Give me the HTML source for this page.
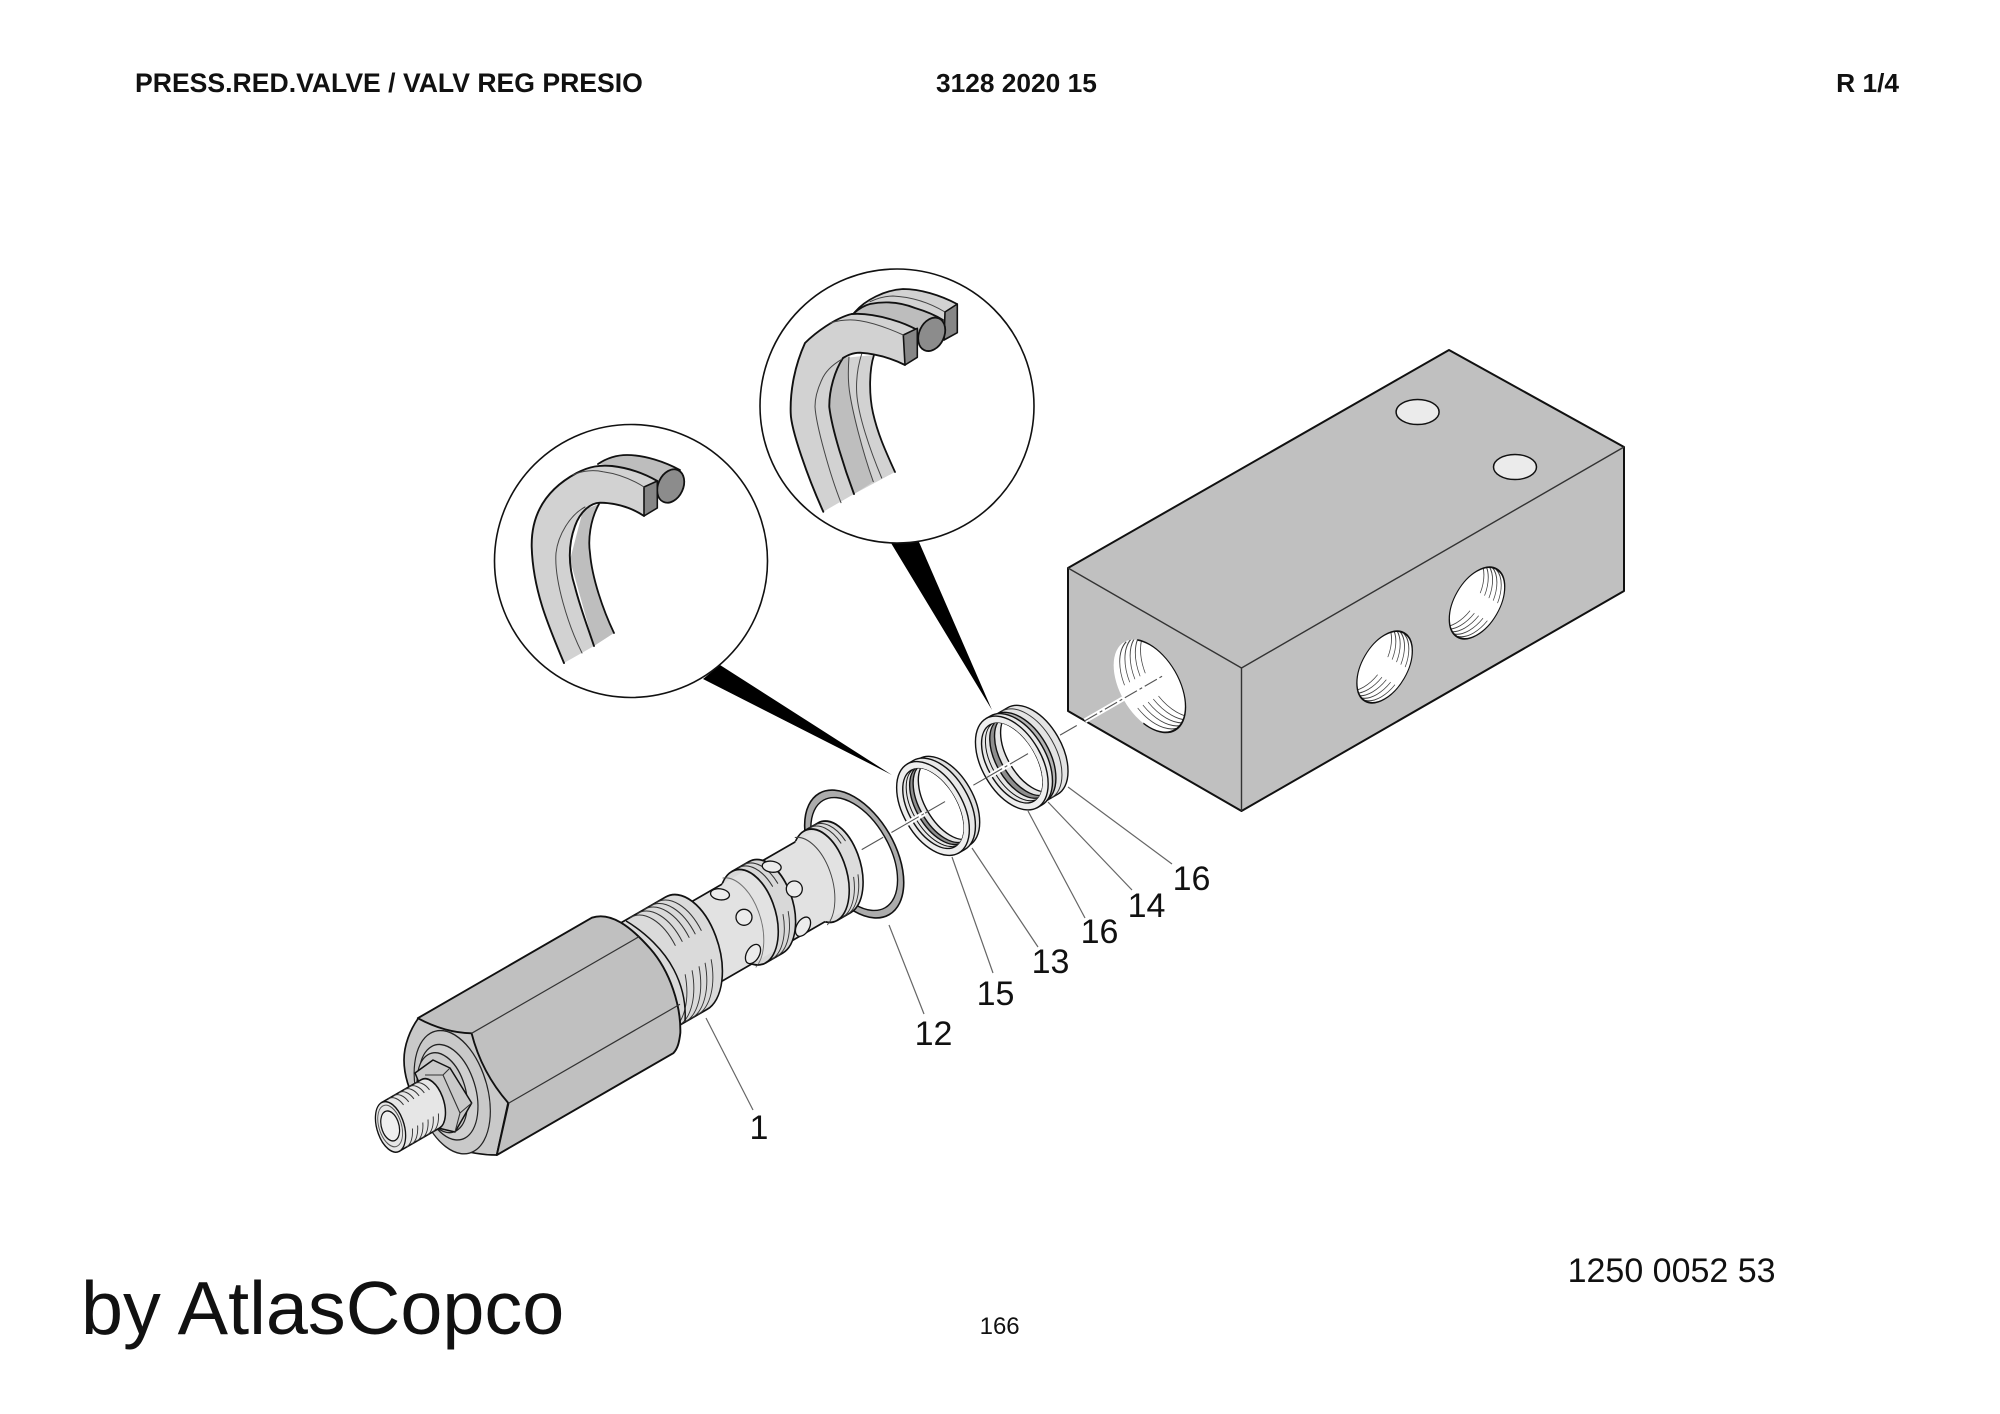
<!DOCTYPE html>
<html><head><meta charset="utf-8"><title>PRESS.RED.VALVE</title>
<style>html,body{margin:0;padding:0;background:#fff;width:2000px;height:1414px;overflow:hidden}svg{display:block}
text{font-family:"Liberation Sans",sans-serif;fill:#111}</style></head>
<body>
<svg xmlns="http://www.w3.org/2000/svg" width="2000" height="1414" viewBox="0 0 2000 1414">
<defs>
<clipPath id="chA"><ellipse cx="718" cy="0" rx="24" ry="44"/></clipPath>
<clipPath id="chB"><ellipse cx="627" cy="0" rx="24" ry="44"/></clipPath>
<clipPath id="c1"><circle r="41.5"/></clipPath>
<clipPath id="c2"><circle r="32"/></clipPath>
</defs>
<rect width="2000" height="1414" fill="#fff"/>

<!-- headers -->
<text x="135" y="92" font-size="26.6" font-weight="bold">PRESS.RED.VALVE / VALV REG PRESIO</text>
<text x="936" y="92" font-size="26.3" font-weight="bold">3128 2020 15</text>
<text x="1899" y="92" font-size="26.3" font-weight="bold" text-anchor="end">R 1/4</text>

<!-- block -->
<g stroke-linejoin="round">
<polygon points="1449,350 1624,447 1624,591 1241.5,811 1068,711 1068,568" fill="#c0c0c0" stroke="#111" stroke-width="2"/>
<polyline points="1068,568 1241.5,668 1624,447" fill="none" stroke="#333" stroke-width="1.4"/>
<line x1="1241.5" y1="668" x2="1241.5" y2="811" stroke="#333" stroke-width="1.4"/>
</g>
<ellipse cx="1417.6" cy="412" rx="21.5" ry="12.5" fill="#ebebeb" stroke="#111" stroke-width="1.5"/>
<ellipse cx="1515" cy="467" rx="21.5" ry="12.5" fill="#ebebeb" stroke="#111" stroke-width="1.5"/>

<!-- front hole -->
<g transform="matrix(.866,.5,0,1,1149.6,686)">
<circle r="41.5" fill="#fff"/>
<g clip-path="url(#c1)" fill="none" stroke="#444" stroke-width="1">
<circle cx="7" cy="-7" r="41.5" pathLength="360" stroke-dasharray="65 30 65 200" stroke-dashoffset="-55"/>
<circle cx="13" cy="-13" r="41.5" pathLength="360" stroke-dasharray="65 30 65 200" stroke-dashoffset="-55"/>
<circle cx="19" cy="-19" r="41.5" pathLength="360" stroke-dasharray="65 30 65 200" stroke-dashoffset="-55"/>
<circle cx="25" cy="-25" r="41.5" pathLength="360" stroke-dasharray="65 30 65 200" stroke-dashoffset="-55"/>
<circle cx="31" cy="-31" r="41.5" pathLength="360" stroke-dasharray="65 30 65 200" stroke-dashoffset="-55"/>
</g>
<circle r="41.5" fill="none" stroke="#111" stroke-width="1.6" pathLength="360" stroke-dasharray="210 150" stroke-dashoffset="110"/>
</g>
<!-- side holes -->
<g transform="matrix(.866,-.5,0,1,1384.6,667)">
<circle r="32" fill="#fff"/>
<g clip-path="url(#c2)" fill="none" stroke="#444" stroke-width="1">
<circle cx="-4" cy="-4" r="32" pathLength="360" stroke-dasharray="65 30 65 200" stroke-dashoffset="35"/>
<circle cx="-9" cy="-9" r="32" pathLength="360" stroke-dasharray="65 30 65 200" stroke-dashoffset="35"/>
<circle cx="-14" cy="-14" r="32" pathLength="360" stroke-dasharray="65 30 65 200" stroke-dashoffset="35"/>
<circle cx="-19" cy="-19" r="32" pathLength="360" stroke-dasharray="65 30 65 200" stroke-dashoffset="35"/>
<circle cx="-24" cy="-24" r="32" pathLength="360" stroke-dasharray="65 30 65 200" stroke-dashoffset="35"/>
</g>
<circle r="32" fill="none" stroke="#111" stroke-width="1.5"/>
</g>
<g transform="matrix(.866,-.5,0,1,1477,603)">
<circle r="32" fill="#fff"/>
<g clip-path="url(#c2)" fill="none" stroke="#444" stroke-width="1">
<circle cx="-4" cy="-4" r="32" pathLength="360" stroke-dasharray="65 30 65 200" stroke-dashoffset="35"/>
<circle cx="-9" cy="-9" r="32" pathLength="360" stroke-dasharray="65 30 65 200" stroke-dashoffset="35"/>
<circle cx="-14" cy="-14" r="32" pathLength="360" stroke-dasharray="65 30 65 200" stroke-dashoffset="35"/>
<circle cx="-19" cy="-19" r="32" pathLength="360" stroke-dasharray="65 30 65 200" stroke-dashoffset="35"/>
<circle cx="-24" cy="-24" r="32" pathLength="360" stroke-dasharray="65 30 65 200" stroke-dashoffset="35"/>
</g>
<circle r="32" fill="none" stroke="#111" stroke-width="1.5"/>
</g>

<!-- wedges -->
<polygon points="891,543 919,542 992,710" fill="#000"/>
<polygon points="703,679 720,665 892,775" fill="#000"/>

<!-- detail circles -->
<circle cx="897" cy="406" r="137" fill="#fff" stroke="#111" stroke-width="1.6"/>
<circle cx="631" cy="561" r="136.5" fill="#fff" stroke="#111" stroke-width="1.6"/>

<!-- left seal -->
<g stroke-linejoin="round" stroke-linecap="round">
<path d="M598,464 C610,456 620,455 627,455 C645,455 665,462 680,470 L670,500 L658,482 L613,466 Z" fill="#bdbdbd"/>
<path d="M598,464 C610,456 620,455 627,455 C645,455 665,462 680,470" fill="none" stroke="#111" stroke-width="1.8"/>
<ellipse cx="670.7" cy="486" rx="12.5" ry="17.5" transform="rotate(25 670.7 486)" fill="#8c8c8c" stroke="#111" stroke-width="1.8"/>
<path d="M599,504 C590,520 588,540 590,553 C592,578 603,610 614,633 L594,646 L570,560 L583,510 Z" fill="#bebebe"/>
<path d="M599,504 C590,520 588,540 590,553 C592,578 603,610 614,633" fill="none" stroke="#111" stroke-width="1.8"/>
<path d="M564,663 C548,625 533,590 531.7,547 C531,515 545,490 576.7,473 C590,466 600,465 612,466 C630,468 645,474 657.3,481 L657.3,508 L644,516 C632,508 618,503 600,502.7 C590,503 580,512 575,526 C568,545 568,565 575,587 C580,607 588,628 594,646 Z" fill="#d2d2d2"/>
<path d="M564,663 C548,625 533,590 531.7,547 C531,515 545,490 576.7,473 C590,466 600,465 612,466 C630,468 645,474 657.3,481 M644,516 C632,508 618,503 600,502.7 C590,503 580,512 575,526 C568,545 568,565 575,587 C580,607 588,628 594,646" fill="none" stroke="#111" stroke-width="1.9"/>
<polygon points="644,487 657.3,481 657.3,508 644,516" fill="#868686" stroke="#111" stroke-width="1.6"/>
<path d="M573,475 C583,470 595,470 603,471.7 C620,474 633,480 644,487" fill="none" stroke="#444" stroke-width="1"/>
<path d="M585,507 C570,515 558,535 556,553 C554,580 568,625 582,653" fill="none" stroke="#444" stroke-width="1"/>
</g>

<!-- right seal -->
<g stroke-linejoin="round" stroke-linecap="round">
<path d="M855,312 C865,300 885,290 903,289 C920,289 940,295 957,304 L957,333 L944,340 L925,315 L868,306 Z" fill="#d2d2d2"/>
<path d="M855,312 C865,300 885,290 903,289 C920,289 940,295 957,304" fill="none" stroke="#111" stroke-width="1.8"/>
<path d="M870,301.7 C878,298 886,296 893,296 C912,297 930,303 945,312" fill="none" stroke="#444" stroke-width="1"/>
<polygon points="945,312 957.3,304 957.3,332.7 944,340" fill="#868686" stroke="#111" stroke-width="1.6"/>
<path d="M854,313 C860,308 866,305 870,304 C885,301 900,302 915,308 C925,311 935,315 943,320 L935,350 L917,330 L876,317 Z" fill="#bdbdbd"/>
<path d="M854,313 C860,308 866,305 870,304 C885,301 900,302 915,308 C925,311 935,315 943,320" fill="none" stroke="#111" stroke-width="1.8"/>
<ellipse cx="931.7" cy="334.3" rx="12.5" ry="17.5" transform="rotate(25 931.7 334.3)" fill="#8c8c8c" stroke="#111" stroke-width="1.8"/>
<path d="M874,355 C869,370 869,395 873,413 C878,435 886,452 895,472 L854,494 L829,407 L843,358 Z" fill="#d2d2d2"/>
<path d="M849,357 C848,370 848,380 849.3,390 C852,410 862,450 873.3,481.7 L854,494 C845,470 834,430 829.3,407 C829,390 835,370 843,358 Z" fill="#bebebe"/>
<path d="M874,355 C869,370 869,395 873,413 C878,435 886,452 895,472" fill="none" stroke="#111" stroke-width="1.8"/>
<path d="M849,357 C848,370 848,380 849.3,390 C852,410 862,450 873.3,481.7 M862,353 C858,365 856,380 856.7,393 C858,415 870,450 881.7,478" fill="none" stroke="#444" stroke-width="1"/>
<path d="M823.3,511.7 C808,478 791,430 790.7,413 C790,390 795,365 805,343 C815,333 835,318 851.7,314 C865,313 880,316 893,320 C900,322 910,326 917.3,330 L917.3,357 L905,365 C895,360 880,354 860,352.7 C852,353 848,355 843,358 C835,370 829,390 829.3,407 C832,430 845,470 854,494 Z" fill="#d2d2d2"/>
<path d="M823.3,511.7 C808,478 791,430 790.7,413 C790,390 795,365 805,343 C815,333 835,318 851.7,314 C865,313 880,316 893,320 C900,322 910,326 917.3,330 M905,365 C895,360 880,354 860,352.7 C852,353 848,355 843,358 C835,370 829,390 829.3,407 C832,430 845,470 854,494" fill="none" stroke="#111" stroke-width="1.9"/>
<polygon points="903.3,335 917.3,328.3 917.3,357.3 905,365" fill="#868686" stroke="#111" stroke-width="1.6"/>
<path d="M830,323 C840,320 850,319 860,320.7 C875,323 890,329 903.3,335" fill="none" stroke="#444" stroke-width="1"/>
<path d="M841.7,359.3 C832,365 825,372 821.7,380 C817,390 815,400 815,406.7 C816,425 830,475 841,502.7" fill="none" stroke="#444" stroke-width="1"/>
</g>

<!-- leader lines -->
<g stroke="#666" stroke-width="1.2" fill="none">
<line x1="706" y1="1018" x2="753" y2="1110"/>
<line x1="889" y1="925" x2="924" y2="1014"/>
<line x1="952" y1="857" x2="993" y2="973"/>
<line x1="972" y1="848" x2="1038" y2="947"/>
<line x1="1028" y1="811" x2="1085" y2="918"/>
<line x1="1048" y1="802" x2="1132" y2="890"/>
<line x1="1068" y1="787" x2="1172" y2="864"/>
</g>

<!-- axis frame: x along axis -->
<g transform="translate(390,1122) rotate(-30)" stroke-linejoin="round">

<!-- O-ring -->
<ellipse cx="536" cy="0" rx="40.5" ry="70" fill="#acacac" stroke="#111" stroke-width="1.6"/>
<ellipse cx="536" cy="0" rx="35" ry="62" fill="#fff" stroke="#111" stroke-width="1.4"/>

<!-- ring A -->
<g stroke="#111" stroke-width="1.4">
<path d="M727,-50 L742,-50 A29 50 0 0 1 742,50 L727,50 Z" fill="#e4e4e4"/>
<path d="M735,-50 A29 50 0 0 1 735,50" fill="none" stroke="#333" stroke-width="1"/>
<path d="M722,-50 L728,-50 A29 50 0 0 1 728,50 L722,50 Z" fill="#b4b4b4"/>
<path d="M718,-51.4 L723,-51.4 A29.7 51.4 0 0 1 723,51.4 L718,51.4 Z" fill="#e8e8e8"/>
<ellipse cx="718" cy="0" rx="29.7" ry="51.4" fill="#eee"/>
<ellipse cx="718" cy="0" rx="24" ry="44" fill="#e6e6e6"/>
<g clip-path="url(#chA)">
<ellipse cx="722.5" cy="0" rx="24" ry="44" fill="#e6e6e6" stroke-width="1"/>
<ellipse cx="727.5" cy="0" rx="24" ry="44" fill="#8e8e8e"/>
<ellipse cx="733" cy="0" rx="24" ry="44" fill="#e6e6e6"/>
<ellipse cx="740" cy="0" rx="24" ry="44" fill="#fff"/>
</g>
</g>

<!-- ring B -->
<g stroke="#111" stroke-width="1.4">
<path d="M633,-50 L640,-50 A29 50 0 0 1 640,50 L633,50 Z" fill="#e0e0e0"/>
<path d="M627,-51.4 L634,-51.4 A29.7 51.4 0 0 1 634,51.4 L627,51.4 Z" fill="#e8e8e8"/>
<ellipse cx="627" cy="0" rx="29.7" ry="51.4" fill="#eee"/>
<ellipse cx="627" cy="0" rx="24" ry="44" fill="#e6e6e6"/>
<g clip-path="url(#chB)">
<ellipse cx="631" cy="0" rx="24" ry="44" fill="#e6e6e6" stroke-width="1"/>
<ellipse cx="635" cy="0" rx="24" ry="44" fill="#8e8e8e"/>
<ellipse cx="639" cy="0" rx="24" ry="44" fill="#e6e6e6"/>
<ellipse cx="645" cy="0" rx="24" ry="44" fill="#fff"/>
</g>
</g>

<!-- axis -->
<g fill="none">
<path d="M692.8,0 H719.8 M596.6,0 H617.8 M802.5,0 H846.8" stroke="#fff" stroke-width="5"/>
<path d="M544.7,0 H569.5 M579,0 H596.6 M617.8,0 H640.9 M673.6,0 H692.8 M719.8,0 H736.7 M773.7,0 H793" stroke="#555" stroke-width="1.1"/>
<path d="M596.6,0 H617.8 M692.8,0 H719.8 M802.5,0 H892" stroke="#555" stroke-width="1.1" stroke-dasharray="14 3 3 3"/>
</g>

<!-- valve bodies with slightly tilted ellipses -->
<g transform="translate(0,2) skewX(-9.65)" stroke="#111" stroke-width="1.7">
<!-- head -->
<path d="M496,-47 L512,-47 A27 47 0 0 1 512,47 L496,47 A27 47 0 0 1 496,-47 Z" fill="#dcdcdc"/>
<g fill="none" stroke="#333" stroke-width="1">
<path pathLength="100" stroke-dasharray="35 30 35" d="M502,-47 A27 47 0 0 1 502,47"/>
<path pathLength="100" stroke-dasharray="35 30 35" d="M507,-47 A27 47 0 0 1 507,47"/>
</g>
<!-- shaft 2 -->
<path d="M420,-42 L508,-42 A27 47 0 0 1 508,42 L420,42 Z" fill="#e2e2e2" stroke="none"/>
<path d="M420,-42 H484 M420,42 H484" fill="none"/>
<path d="M485,-46 A27 47 0 0 1 485,46" fill="none" stroke="#444" stroke-width="1"/>
<path d="M496,-47 A27 47 0 0 1 496,47" fill="none"/>
<!-- ring -->
<path d="M413,-48 L433,-48 A28 48 0 0 1 433,48 L413,48 A28 48 0 0 1 413,-48 Z" fill="#d8d8d8"/>
<g fill="none" stroke="#333" stroke-width="1">
<path pathLength="100" stroke-dasharray="38 24 38" d="M420,-48 A28 48 0 0 1 420,48"/>
<path pathLength="100" stroke-dasharray="38 24 38" d="M426,-48 A28 48 0 0 1 426,48"/>
</g>
<!-- shaft 1 -->
<path d="M330,-42 L426.5,-42 A28 48 0 0 1 426.5,42 L330,42 Z" fill="#e2e2e2" stroke="none"/>
<path d="M330,-42 H399.5 M330,42 H399.5" fill="none"/>
<path d="M402,-47 A28 48 0 0 1 402,47" fill="none" stroke="#444" stroke-width="1" opacity=".7"/>
<path d="M413,-48 A28 48 0 0 1 413,48" fill="none"/>
<!-- collar -->
<path d="M265,-59 L341,-59 A34 59 0 0 1 341,59 L265,59 Z" fill="#dadada"/>
<g fill="none" stroke="#333" stroke-width="1">
<path pathLength="100" stroke-dasharray="42 20 38" d="M300,-59 A34 59 0 0 1 300,59"/>
<path pathLength="100" stroke-dasharray="42 20 38" d="M308,-59 A34 59 0 0 1 308,59"/>
<path pathLength="100" stroke-dasharray="42 20 38" d="M316,-59 A34 59 0 0 1 316,59"/>
<path pathLength="100" stroke-dasharray="42 20 38" d="M323,-59 A34 59 0 0 1 323,59"/>
<path pathLength="100" stroke-dasharray="42 20 38" d="M330,-59 A34 59 0 0 1 330,59"/>
</g>
</g>
<path d="M305,-56 C316,-36 323,-12 322,10 C321,32 314,48 306,60" fill="none" stroke="#111" stroke-width="1.5"/>
</g>

<!-- chamfer -->
<path d="M418.3,1018.3 C410,1030 404,1045 404,1060 C404,1090 425,1125 455,1148 Q475,1155 496.7,1155 L508,1103 L472,1033 Z" fill="#c9c9c9" stroke="#111" stroke-width="1.7" stroke-linejoin="round"/>

<g transform="translate(390,1122) rotate(-30)" stroke-linejoin="round">
<!-- hex -->
<path d="M76,-76 L277,-76 C296,-72 306,-50 312,-20 C318,10 310,45 296,68 C290,76 286,80 280,82 L76,82 L112,43 Q104,3 115,-36 Q92,-50 76,-76 Z" fill="#c0c0c0" stroke="#111" stroke-width="1.9"/>
<path d="M115,-36 H308 M112,43 H310" stroke="#333" stroke-width="1.2" fill="none"/>
<!-- face rings -->
<g transform="skewX(-9.65)" stroke="#222">
<ellipse cx="69.7" cy="5.3" rx="36" ry="62" fill="#c9c9c9" stroke-width="1.3"/>
<ellipse cx="66" cy="3.4" rx="28" ry="48" fill="#d0d0d0" stroke-width="1.3"/>
<ellipse cx="60" cy="0.7" rx="24" ry="40" fill="#cbcbcb" stroke-width="1.3"/>
</g>
</g>

<!-- nut -->
<g stroke-linejoin="round">
<polygon points="415,1073 433,1060 450,1068 471.7,1103 455,1132 438,1128" fill="#cacaca" stroke="#111" stroke-width="1.5"/>
<path d="M425,1075 H443 L450,1068 M443,1075 L460,1113 L471.7,1103 M460,1113 L455,1132" fill="none" stroke="#333" stroke-width="1.1"/>
</g>

<!-- stud -->
<g transform="translate(390,1122) rotate(-30) translate(0,4.5) skewX(-9.65)">
<path d="M-2,-25.5 L44,-25.5 A14 25.5 0 0 1 44,25.5 L-2,25.5 Z" fill="#e6e6e6" stroke="#111" stroke-width="1.6"/>
<g fill="none" stroke="#333" stroke-width="1">
<path pathLength="100" stroke-dasharray="30 40 30" d="M6,-25.5 A14 25.5 0 0 1 6,25.5"/>
<path pathLength="100" stroke-dasharray="30 40 30" d="M12,-25.5 A14 25.5 0 0 1 12,25.5"/>
<path pathLength="100" stroke-dasharray="30 40 30" d="M18,-25.5 A14 25.5 0 0 1 18,25.5"/>
<path pathLength="100" stroke-dasharray="30 40 30" d="M24,-25.5 A14 25.5 0 0 1 24,25.5"/>
<path pathLength="100" stroke-dasharray="30 40 30" d="M30,-25.5 A14 25.5 0 0 1 30,25.5"/>
<path pathLength="100" stroke-dasharray="30 40 30" d="M36,-25.5 A14 25.5 0 0 1 36,25.5"/>
</g>
<ellipse cx="-2" cy="0" rx="14" ry="25.5" fill="#e6e6e6" stroke="#111" stroke-width="1.4"/>
<ellipse cx="-2" cy="-1" rx="11.5" ry="21" fill="#e6e6e6" stroke="#555" stroke-width="1"/>
<ellipse cx="-2" cy="-1" rx="9" ry="15" fill="#efefef" stroke="#111" stroke-width="1.3"/>
</g>

<!-- shaft holes -->
<g fill="#ececec" stroke="#111" stroke-width="1.3">
<ellipse cx="720" cy="894.3" rx="9.5" ry="5.5" transform="rotate(8 720 894.3)"/>
<ellipse cx="744" cy="917.3" rx="8" ry="8"/>
<ellipse cx="753" cy="954" rx="10.5" ry="6.3" transform="rotate(-60 753 954)"/>
<ellipse cx="771.7" cy="866.7" rx="9.5" ry="5.5" transform="rotate(8 771.7 866.7)"/>
<ellipse cx="794.3" cy="889" rx="8" ry="8"/>
<ellipse cx="803" cy="926.7" rx="10.5" ry="6.3" transform="rotate(-60 803 926.7)"/>
</g>

<!-- labels -->
<g font-size="34" text-anchor="middle">
<text x="1191.5" y="890">16</text>
<text x="1146.5" y="917">14</text>
<text x="1099.5" y="943">16</text>
<text x="1050.5" y="973">13</text>
<text x="995.5" y="1005">15</text>
<text x="933.5" y="1045">12</text>
<text x="759" y="1139">1</text>
</g>
<text x="1567.6" y="1282" font-size="34">1250 0052 53</text>
<text x="81" y="1334" font-size="75.6">by AtlasCopco</text>
<text x="979.6" y="1334" font-size="24">166</text>
</svg>
</body></html>
